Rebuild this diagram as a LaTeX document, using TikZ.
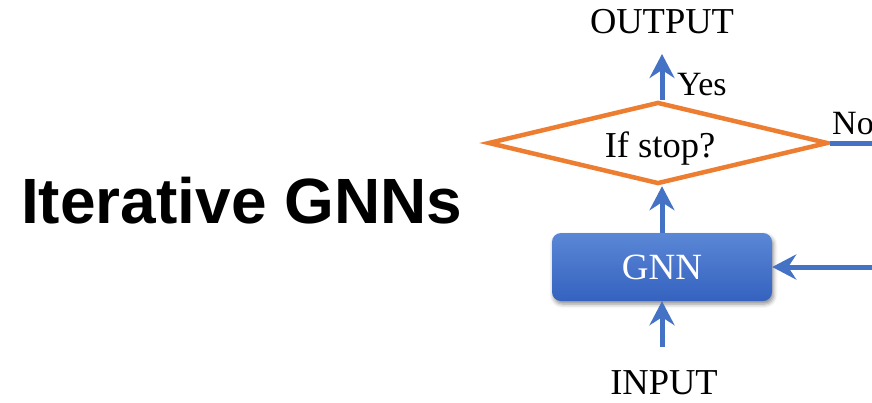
\documentclass[tikz,border=0pt]{standalone}
\usepackage{fontspec}
\setmainfont{Liberation Serif}
\newfontfamily\headfont{Liberation Sans}
\usetikzlibrary{arrows.meta,shapes.geometric,shadows.blur}

\definecolor{flowblue}{HTML}{4472C4}
\definecolor{floworange}{HTML}{ED7D31}
\definecolor{boxtop}{HTML}{5B87D6}
\definecolor{boxbottom}{HTML}{3462BF}

\tikzset{
  txt/.style={inner sep=0pt, font=\fontsize{36.5}{40}\selectfont},
  smalltxt/.style={inner sep=0pt, font=\fontsize{34}{38}\selectfont},
  decision/.style={diamond, draw=floworange, line width=4.5pt, fill=white,
    minimum width=340pt, minimum height=82pt, inner sep=0pt},
  gnnbox/.style={rectangle, rounded corners=9pt, minimum width=220pt,
    minimum height=68pt, top color=boxtop, bottom color=boxbottom,
    text=white, inner sep=0pt, font=\fontsize{37}{40}\selectfont,
    blur shadow={shadow xshift=1.5pt, shadow yshift=-3pt,
      shadow blur radius=4pt, shadow opacity=45}},
  flow/.style={draw=flowblue, line width=5pt},
  flowarrow/.style={flow, -{Stealth[length=24pt, width=25pt, inset=8pt]}}
}

\begin{document}
\begin{tikzpicture}[x=1pt, y=-1pt]
  \useasboundingbox (0,0) rectangle (872,402);
  \clip (0,0) rectangle (872,402);

  % heading
  \node[inner sep=0pt, anchor=base west,
        font=\headfont\bfseries\fontsize{64}{70}\selectfont]
    (title) at (21,223) {Iterative GNNs};

  % flow chart
  \node[decision] (stop) at (658,143) {};
  \node[txt, anchor=base] (stoptxt) at (660,157) {If stop?};
  \node[gnnbox] (gnn) at (662,267) {GNN};

  \node[txt, anchor=base] (output) at (662,33) {OUTPUT};
  \node[txt, anchor=base] (input) at (664,394) {INPUT};
  \node[smalltxt, anchor=base west] (yes) at (677,95) {Yes};
  \node[smalltxt, anchor=base west] (no) at (832,134) {No};

  \coordinate (outTip) at (662,54);
  \coordinate (inTail) at (662,347);
  \coordinate (noEnd) at (880,143);
  \coordinate (loopIn) at (880,267);

  \draw[flowarrow] (stop.north -| outTip) -- (outTip);
  \draw[flowarrow] (gnn.north) -- (gnn.north |- stop.south);
  \draw[flowarrow] (inTail) -- (gnn.south);
  \draw[flow] (stop.east) -- (noEnd);
  \draw[flowarrow] (loopIn) -- (gnn.east);
\end{tikzpicture}
\end{document}
